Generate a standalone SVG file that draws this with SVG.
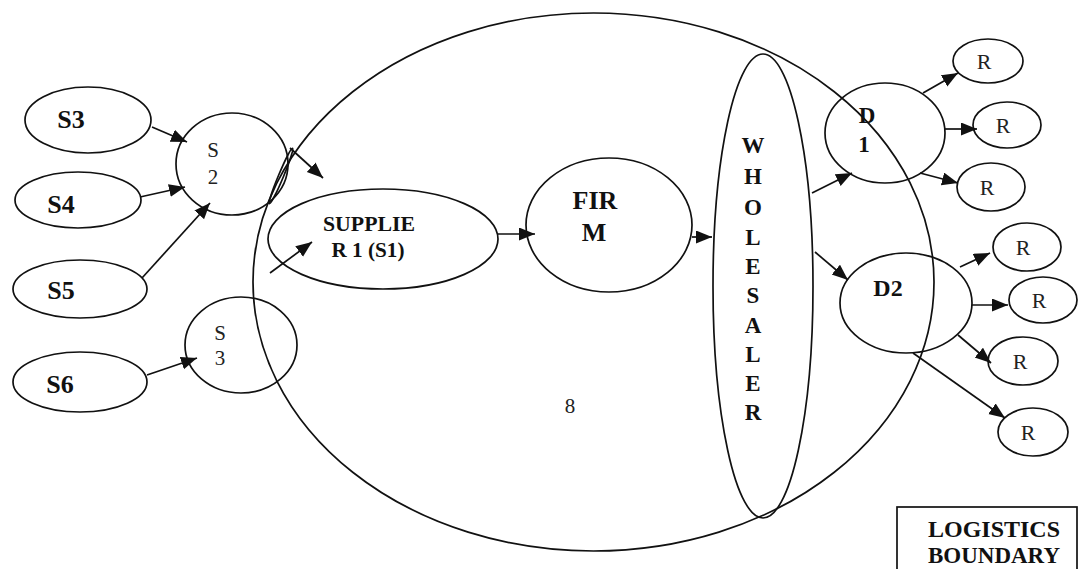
<svg xmlns="http://www.w3.org/2000/svg" width="1084" height="569" viewBox="0 0 1084 569">
<style>
.n{fill:none;stroke:#111;stroke-width:1.7}
.b{font-family:"Liberation Serif","Times New Roman",serif;font-weight:bold;fill:#111;text-anchor:middle}
.r{font-family:"Liberation Serif","Times New Roman",serif;fill:#222;text-anchor:middle}
.c{fill:none;stroke:#111;stroke-width:1.7;marker-end:url(#ah)}
</style>
<defs>
<marker id="ah" markerUnits="userSpaceOnUse" markerWidth="18" markerHeight="14" refX="16" refY="6.5" orient="auto">
<path d="M0,0 L16,6.5 L0,13 Z" fill="#111"/>
</marker>
</defs>
<rect width="1084" height="569" fill="#fff"/>
<g id="boundary">
<ellipse class="n" cx="593.5" cy="282" rx="340.5" ry="269"/>
<ellipse class="n" cx="281" cy="176" rx="30" ry="2.5" transform="rotate(112.7 281 176)"/>
<text class="r" x="570" y="413" font-size="21">8</text>
</g>
<g id="S3"><ellipse class="n" cx="88" cy="120" rx="63" ry="33"/><text class="b" x="71" y="128" font-size="26">S3</text></g>
<g id="S4"><ellipse class="n" cx="78" cy="200" rx="63" ry="28"/><text class="b" x="61" y="213" font-size="26">S4</text></g>
<g id="S5"><ellipse class="n" cx="80" cy="289" rx="67" ry="29"/><text class="b" x="61" y="299" font-size="26">S5</text></g>
<g id="S6"><ellipse class="n" cx="80" cy="382" rx="67" ry="30"/><text class="b" x="60" y="393" font-size="26">S6</text></g>
<g id="S2n"><ellipse class="n" cx="232" cy="164" rx="56" ry="51"/><text class="r" x="213" y="157" font-size="21">S</text><text class="r" x="213" y="184" font-size="21">2</text></g>
<g id="S3n"><ellipse class="n" cx="241" cy="345" rx="56" ry="48"/><text class="r" x="220" y="340" font-size="21">S</text><text class="r" x="220" y="365" font-size="21">3</text></g>
<g id="supplier"><ellipse class="n" cx="383" cy="239" rx="115" ry="50"/><text class="b" x="369" y="231" font-size="21" textLength="92" lengthAdjust="spacingAndGlyphs">SUPPLIE</text><text class="b" x="368" y="257" font-size="21" textLength="73" lengthAdjust="spacingAndGlyphs">R 1 (S1)</text></g>
<g id="firm"><ellipse class="n" cx="609" cy="225" rx="83" ry="67"/><text class="b" x="595" y="209" font-size="26">FIR</text><text class="b" x="594" y="241" font-size="26">M</text></g>
<g id="wholesaler"><ellipse class="n" cx="763" cy="286" rx="50" ry="232"/>
<g class="b" font-size="23">
<text x="753" y="153">W</text><text x="753" y="184">H</text><text x="753" y="215">O</text><text x="753" y="245">L</text><text x="753" y="274">E</text><text x="753" y="303">S</text><text x="753" y="333">A</text><text x="753" y="362">L</text><text x="753" y="391">E</text><text x="753" y="420">R</text>
</g></g>
<g id="D1"><ellipse class="n" cx="885" cy="133" rx="60" ry="50"/><text class="b" x="867" y="123" font-size="23">D</text><text class="b" x="864" y="152" font-size="23">1</text></g>
<g id="D2"><ellipse class="n" cx="906" cy="303" rx="66" ry="50"/><text class="b" x="888" y="296" font-size="24">D2</text></g>
<g id="R1"><ellipse class="n" cx="988" cy="61" rx="35" ry="22"/><text class="r" x="984" y="69" font-size="22">R</text></g>
<g id="R2"><ellipse class="n" cx="1007" cy="125" rx="34" ry="23"/><text class="r" x="1003" y="133" font-size="22">R</text></g>
<g id="R3"><ellipse class="n" cx="991" cy="187" rx="34" ry="24"/><text class="r" x="987" y="195" font-size="22">R</text></g>
<g id="R4"><ellipse class="n" cx="1027" cy="247" rx="34" ry="24"/><text class="r" x="1023" y="255" font-size="22">R</text></g>
<g id="R5"><ellipse class="n" cx="1043" cy="300" rx="34" ry="23"/><text class="r" x="1039" y="308" font-size="22">R</text></g>
<g id="R6"><ellipse class="n" cx="1023" cy="361" rx="35" ry="24"/><text class="r" x="1020" y="369" font-size="22">R</text></g>
<g id="R7"><ellipse class="n" cx="1033" cy="432" rx="35" ry="24"/><text class="r" x="1028" y="440" font-size="22">R</text></g>
<g id="legend"><rect x="897" y="507" width="180" height="70" fill="none" stroke="#111" stroke-width="1.7"/><text class="b" x="994" y="537" font-size="23" textLength="132" lengthAdjust="spacingAndGlyphs">LOGISTICS</text><text class="b" x="994" y="563" font-size="23" textLength="132" lengthAdjust="spacingAndGlyphs">BOUNDARY</text></g>
<g id="connectors">
<line class="c" x1="152" y1="127" x2="187" y2="142"/>
<line class="c" x1="140" y1="197" x2="185" y2="187"/>
<line class="c" x1="142" y1="278" x2="210" y2="203"/>
<line class="c" x1="147" y1="375" x2="197" y2="358"/>
<line class="c" x1="290" y1="148" x2="323" y2="178"/>
<line class="c" x1="270" y1="273" x2="312" y2="242"/>
<line class="c" x1="498" y1="234" x2="535" y2="234"/>
<line class="c" x1="692" y1="237" x2="712" y2="237"/>
<line class="c" x1="812" y1="193" x2="852" y2="173"/>
<line class="c" x1="815" y1="252" x2="848" y2="280"/>
<line class="c" x1="923" y1="93" x2="958" y2="73"/>
<line class="c" x1="945" y1="129" x2="977" y2="129"/>
<line class="c" x1="920" y1="173" x2="958" y2="183"/>
<line class="c" x1="960" y1="267" x2="990" y2="253"/>
<line class="c" x1="972" y1="305" x2="1008" y2="305"/>
<line class="c" x1="958" y1="335" x2="991" y2="363"/>
<line class="c" x1="913" y1="353" x2="1005" y2="418"/>
</g>
</svg>
